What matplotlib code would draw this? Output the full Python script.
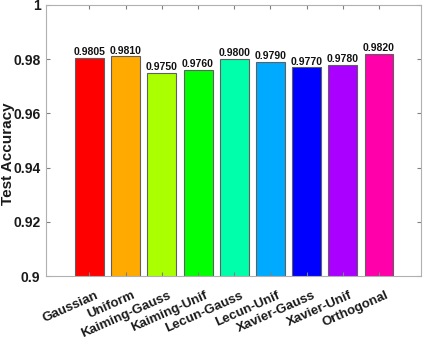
import matplotlib

matplotlib.use("Agg")
import matplotlib.pyplot as plt
import matplotlib.transforms as mtransforms

plt.rcParams['font.family'] = ['Liberation Sans', 'DejaVu Sans']
plt.rcParams['font.weight'] = 'bold'

# Données
methodes = ["Gaussian", "Uniform", "Kaiming-Gauss", "Kaiming-Unif", "Lecun-Gauss",
            "Lecun-Unif", "Xavier-Gauss", "Xavier-Unif", "Orthogonal"]
precision = [0.9805, 0.9810, 0.9750, 0.9760, 0.9800, 0.9790, 0.9770, 0.9780, 0.9820]
couleurs = ["#ff0000", "#ffaa00", "#aaff00", "#00ff00", "#00ffaa",
            "#00aaff", "#0000ff", "#aa00ff", "#ff00aa"]
yticks = [0.9, 0.92, 0.94, 0.96, 0.98, 1]
ytick_labels = ["0.9", "0.92", "0.94", "0.96", "0.98", "1"]

fig = plt.figure(figsize=(4.23, 3.4), dpi=100)
ax = fig.add_axes([46 / 423, 1 - 276 / 340, 375 / 423, 271 / 340])

x = list(range(1, len(methodes) + 1))
ax.bar(x, precision, width=0.8, color=couleurs, edgecolor="#606060", linewidth=0.8)

for xi, v in zip(x, precision):
    ax.text(xi, v + 0.0003, f"{v:.4f}", ha='center', va='bottom', fontsize=7.5,
            fontweight='bold', color="#111111")

ax.set_xlim(-0.2, 10.16)
ax.set_ylim(0.9, 1)
ax.set_yticks(yticks)
ax.set_yticklabels(ytick_labels, fontsize=10, fontweight='bold', color="#1a1a1a")
ax.set_xticks(x)
ax.set_xticklabels([])

# étiquettes de l'axe x tournées, placées à la main (décalées à droite)
trans = mtransforms.blended_transform_factory(ax.transData, ax.transAxes)
decalage = mtransforms.ScaledTranslation(4.5 / 72, -9.5 / 72, fig.dpi_scale_trans)
for xi, nom in zip(x, methodes):
    ax.text(xi, 0, nom, transform=trans + decalage, rotation=24, ha='right', va='top',
            rotation_mode='anchor', fontsize=9.5, fontweight='bold', color="#1a1a1a")

ax.set_ylabel("Test Accuracy", fontsize=11, fontweight='bold', color="#1a1a1a")
ax.yaxis.set_label_coords(-0.083, 0.45)

for s in ax.spines.values():
    s.set_color("#b0b0b0")
ax.tick_params(direction='in', top=True, right=True, length=3, color="#808080")
ax.tick_params(axis='y', pad=4)

fig.savefig("out.png", dpi=100)
